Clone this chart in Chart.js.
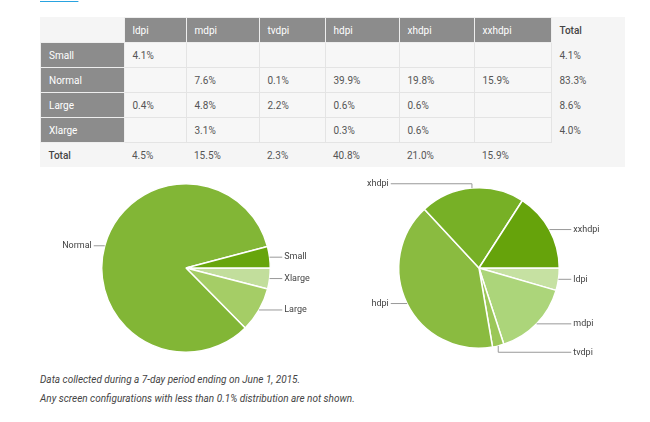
<!DOCTYPE html>
<html><head><meta charset="utf-8">
<script src="https://cdn.jsdelivr.net/npm/chart.js@4"></script>
<style>
body{margin:0;width:650px;height:422px;background:#fff;font-family:Roboto,sans-serif;position:relative;overflow:hidden}
#tbl{position:absolute;left:40px;top:17px;border-collapse:collapse;background:#f5f5f5;font-size:10px;color:#555}
#tbl td{height:24px;padding:0 0 0 8px;border:1px solid #e4e4e4;background:#f7f7f7;vertical-align:middle}
#tbl td.h{background:#8c8c8c;color:#fff;border:1px solid #eee}
#tbl td.t{border:none;background:#f5f5f5;font-weight:500;color:#444}
#tbl td.e{border:none;background:#f5f5f5}
.c{position:absolute;top:168px;width:292px;height:200px}
.note{position:absolute;left:40px;font-size:10px;font-style:italic;color:#444}
</style></head><body>
<div style="position:absolute;left:40px;top:-9px;font-size:10px;color:#29a3e0;text-decoration:underline">Screens.</div>
<table id="tbl"></table>
<div class="c" style="left:40px"><canvas id="pieSize"></canvas></div>
<div class="c" style="left:333px"><canvas id="pieDens"></canvas></div>
<div class="note" style="top:374px">Data collected during a 7-day period ending on June 1, 2015.</div>
<div class="note" style="top:393px">Any screen configurations with less than 0.1% distribution are not shown.</div>
<script>
var densidades = ['ldpi','mdpi','tvdpi','hdpi','xhdpi','xxhdpi'];
var tamanos = ['Small','Normal','Large','Xlarge'];
var tabla = [
  ['4.1%','','','','',''],
  ['','7.6%','0.1%','39.9%','19.8%','15.9%'],
  ['0.4%','4.8%','2.2%','0.6%','0.6%',''],
  ['','3.1%','','0.3%','0.6%','']
];
var totalFila = ['4.1%','83.3%','8.6%','4.0%'];
var totalCol = ['4.5%','15.5%','2.3%','40.8%','21.0%','15.9%'];

// pie de tamanos (orden horario desde las 3)
var labelsSize = ['Xlarge','Large','Normal','Small'];
var dataSize = [4.0, 8.6, 83.3, 4.1];
var colorsSize = ['#c2de9c','#a5cd66','#82b636','#67a50c'];
// pie de densidades
var labelsDens = ['ldpi','mdpi','tvdpi','hdpi','xhdpi','xxhdpi'];
var dataDens = [4.5, 15.5, 2.3, 40.8, 21.0, 15.9];
var colorsDens = ['#c6e1a2','#acd57a','#9bc758','#8abb40','#77b026','#66a30b'];

/*=============================================
TABLA
=============================================*/
var widths = [83,62,73,66,74,75,77,72];
var html = '<tr><td class="e" style="width:'+(widths[0]-8)+'px"></td>';
densidades.forEach(function (d, i) { html += '<td class="h" style="width:'+(widths[i+1]-9)+'px">'+d+'</td>'; });
html += '<td class="t" style="width:'+(widths[7]-8)+'px">Total</td></tr>';
tamanos.forEach(function (t, r) {
  html += '<tr><td class="h">'+t+'</td>';
  tabla[r].forEach(function (v) { html += '<td>'+v+'</td>'; });
  html += '<td class="e">'+totalFila[r]+'</td></tr>';
});
html += '<tr><td class="t">Total</td>';
totalCol.forEach(function (v) { html += '<td class="e">'+v+'</td>'; });
html += '<td class="e"></td></tr>';
document.getElementById('tbl').innerHTML = html;

/*=============================================
ETIQUETAS CON LINEAS
=============================================*/
var etiquetas = {
  id: 'etiquetas',
  afterDraw: function (chart) {
    var ctx = chart.ctx;
    var meta = chart.getDatasetMeta(0);
    ctx.save();
    ctx.font = '9px Roboto';
    ctx.fillStyle = '#444';
    ctx.strokeStyle = '#999';
    ctx.lineWidth = 1;
    ctx.textBaseline = 'middle';
    meta.data.forEach(function (arc, i) {
      var p = arc.getProps(['x','y','startAngle','endAngle','outerRadius'], true);
      var a = (p.startAngle + p.endAngle) / 2;
      var cx = Math.cos(a), sy = Math.sin(a);
      var ex = p.x + cx * p.outerRadius, ey = p.y + sy * p.outerRadius;
      var der = cx >= 0;
      var lx = der ? p.x + p.outerRadius + 12 : p.x - p.outerRadius - 8;
      ctx.beginPath();
      ctx.moveTo(ex, ey);
      var ly = ey;
      if (Math.abs(sy) > 0.9) {
        ly = p.y + (sy > 0 ? 1 : -1) * (p.outerRadius + 4);
        ctx.lineTo(ex, ly);
      }
      ctx.lineTo(lx, ly);
      ctx.stroke();
      ctx.textAlign = der ? 'left' : 'right';
      ctx.fillText(chart.data.labels[i], der ? lx + 2 : lx - 2, ly);
    });
    ctx.restore();
  }
};

function pie(id, labels, data, colors, pad) {
  new Chart(document.getElementById(id).getContext('2d'), {
    type: 'pie',
    data: { labels: labels, datasets: [{ data: data, backgroundColor: colors, borderColor: '#fff', borderWidth: 1.5 }] },
    options: {
      responsive: true, maintainAspectRatio: false, animation: false,
      rotation: 90,
      layout: { padding: pad },
      plugins: { legend: { display: false }, tooltip: { enabled: false } }
    },
    plugins: [etiquetas]
  });
}
pie('pieSize', labelsSize, dataSize, colorsSize, 15);
pie('pieDens', labelsDens, dataDens, colorsDens, 19);
</script>
</body></html>
